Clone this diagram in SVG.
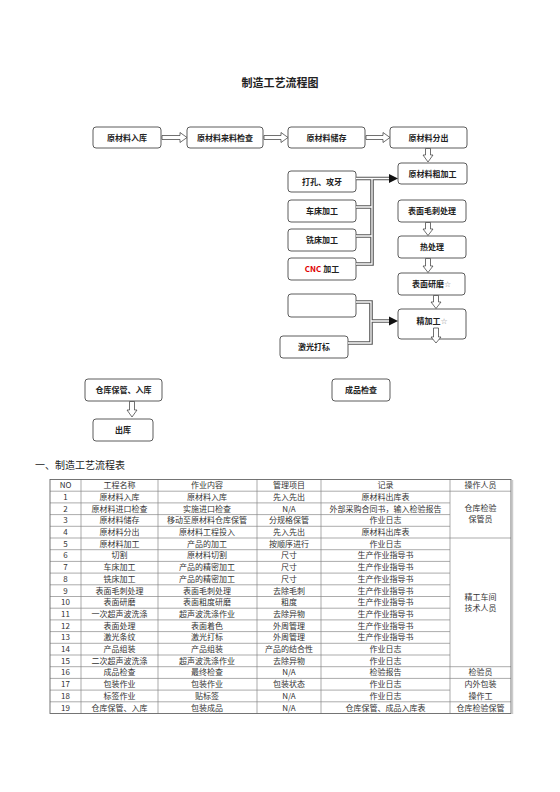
<svg xmlns="http://www.w3.org/2000/svg" width="560" height="792" viewBox="0 0 560 792">
<style>
.box{fill:#fff;stroke:#333;stroke-width:0.8}
.bt{font-family:"Noto Sans CJK SC","Noto Sans",sans-serif;font-size:8px;font-weight:bold;fill:#222;text-anchor:middle}
.star{font-family:"DejaVu Sans",sans-serif;font-weight:normal;fill:#888;font-size:8px}
.ha{fill:#fff;stroke:#333;stroke-width:0.7}
.co{fill:none;stroke:#555;stroke-width:3.6}
.ci{fill:none;stroke:#fff;stroke-width:1.3}
.tt{font-family:"Noto Sans CJK SC","Noto Sans",sans-serif;font-size:8px;fill:#333;text-anchor:middle}
.tl{stroke:#888;stroke-width:0.7}
</style>
<rect width="560" height="792" fill="#fff"/>
<text x="280" y="87" style="font-family:'Noto Sans CJK SC',sans-serif;font-size:11px;font-weight:bold;fill:#222" text-anchor="middle">制造工艺流程图</text>

<g id="n1"><rect class="box" x="93" y="127" width="68" height="21" rx="3"/><text class="bt" x="127" y="140.5">原材料入库</text></g>
<g id="n2"><rect class="box" x="187" y="127" width="76" height="21" rx="3"/><text class="bt" x="225" y="140.5">原材料来料检查</text></g>
<g id="n3"><rect class="box" x="288" y="127" width="77" height="21" rx="3"/><text class="bt" x="326.5" y="140.5">原材料储存</text></g>
<g id="n4"><rect class="box" x="390" y="127" width="77" height="21" rx="3"/><text class="bt" x="428.5" y="140.5">原材料分出</text></g>
<g id="n5"><rect class="box" x="398" y="163" width="69" height="21" rx="3"/><text class="bt" x="432.5" y="176.5">原材料粗加工</text></g>
<g id="n6"><rect class="box" x="288" y="171" width="68" height="21" rx="3"/><text class="bt" x="322" y="184.5">打孔、攻牙</text></g>
<g id="n7"><rect class="box" x="288" y="200" width="68" height="22" rx="3"/><text class="bt" x="322" y="214">车床加工</text></g>
<g id="n8"><rect class="box" x="288" y="229" width="68" height="22" rx="3"/><text class="bt" x="322" y="243">铣床加工</text></g>
<g id="n9"><rect class="box" x="288" y="258" width="68" height="22" rx="3"/><text class="bt" x="322" y="272"><tspan fill="#e00000">CNC</tspan> 加工</text></g>
<g id="n10"><rect class="box" x="398" y="200" width="68" height="22" rx="3"/><text class="bt" x="432" y="214">表面毛刺处理</text></g>
<g id="n11"><rect class="box" x="398" y="236" width="68" height="22" rx="3"/><text class="bt" x="432" y="250">热处理</text></g>
<g id="n12"><rect class="box" x="398" y="273" width="67" height="22" rx="3"/><text class="bt" x="431.5" y="287">表面研磨<tspan class="star">☆</tspan></text></g>
<g id="n13"><rect class="box" x="288" y="294" width="68" height="23" rx="3"/></g>
<g id="n14"><rect class="box" x="398" y="309" width="68" height="30" rx="3"/><text class="bt" x="432" y="324">精加工<tspan class="star">☆</tspan></text></g>
<g id="n15"><rect class="box" x="280" y="336" width="68" height="22" rx="3"/><text class="bt" x="314" y="350">激光打标</text></g>
<g id="n16"><rect class="box" x="85" y="379" width="77" height="22" rx="3"/><text class="bt" x="123.5" y="393">仓库保管、入库</text></g>
<g id="n17"><rect class="box" x="93" y="419" width="60" height="22" rx="3"/><text class="bt" x="123" y="433">出库</text></g>
<g id="n18"><rect class="box" x="332" y="379" width="58" height="22" rx="3"/><text class="bt" x="361" y="393">成品检查</text></g>

<g id="connectors">
  <path class="co" d="M356,178.5 H392 M372,178.5 V264 H356 M356,207 H372 M356,236 H372"/>
  <path class="co" d="M356,302 H371 V343 H348 M371,321 H391"/>
  <path class="ci" d="M356,178.5 H391 M372,178.5 V264 H356 M356,207 H372 M356,236 H372"/>
  <path class="ci" d="M356,302 H371 V343 H348 M371,321 H390"/>
  <path d="M389,174 L398,178.5 L389,183 Z" fill="#111"/>
  <path d="M389,316.5 L398,321 L389,325.5 Z" fill="#111"/>
  <path class="ha" d="M162,135.5 H180 V132.5 L187,137.5 L180,142.5 V139.5 H162 Z"/>
  <path class="ha" d="M264,135.5 H281 V132.5 L288,137.5 L281,142.5 V139.5 H264 Z"/>
  <path class="ha" d="M366,135.5 H383 V132.5 L390,137.5 L383,142.5 V139.5 H366 Z"/>
  <path class="ha" d="M425.5,148.5 V155 H423 L428,162 L433,155 H430.5 V148.5 Z"/>
  <path class="ha" d="M425.5,222.5 V229 H423 L428,235.5 L433,229 H430.5 V222.5 Z"/>
  <path class="ha" d="M425.5,258.5 V266 H423 L428,272.5 L433,266 H430.5 V258.5 Z"/>
  <path class="ha" d="M433.5,295.5 V302 H431 L436,308.5 L441,302 H438.5 V295.5 Z"/>
  <path class="ha" d="M433.5,328 V337 H431 L436,343 L441,337 H438.5 V328 Z"/>
  <path class="ha" d="M129.5,401.5 V410 H127 L132,417 L137,410 H134.5 V401.5 Z"/>
</g>

<text x="35" y="469" style="font-family:'Noto Sans CJK SC',sans-serif;font-size:10px;fill:#222">一、制造工艺流程表</text>

<g id="table">
  <g class="tl">
    <line x1="50" y1="491.2" x2="511" y2="491.2"/>
    <line x1="50" y1="502.9" x2="450" y2="502.9"/>
    <line x1="50" y1="514.6" x2="450" y2="514.6"/>
    <line x1="50" y1="526.3" x2="450" y2="526.3"/>
    <line x1="50" y1="538" x2="511" y2="538"/>
    <line x1="50" y1="549.7" x2="450" y2="549.7"/>
    <line x1="50" y1="561.4" x2="450" y2="561.4"/>
    <line x1="50" y1="573.1" x2="450" y2="573.1"/>
    <line x1="50" y1="584.8" x2="450" y2="584.8"/>
    <line x1="50" y1="596.5" x2="450" y2="596.5"/>
    <line x1="50" y1="608.2" x2="450" y2="608.2"/>
    <line x1="50" y1="619.9" x2="450" y2="619.9"/>
    <line x1="50" y1="631.6" x2="450" y2="631.6"/>
    <line x1="50" y1="643.3" x2="450" y2="643.3"/>
    <line x1="50" y1="655" x2="450" y2="655"/>
    <line x1="50" y1="666.7" x2="511" y2="666.7"/>
    <line x1="50" y1="678.4" x2="511" y2="678.4"/>
    <line x1="50" y1="690.1" x2="450" y2="690.1"/>
    <line x1="50" y1="701.8" x2="511" y2="701.8"/>
    <line x1="81" y1="479.5" x2="81" y2="713.5"/>
    <line x1="158" y1="479.5" x2="158" y2="713.5"/>
    <line x1="257" y1="479.5" x2="257" y2="713.5"/>
    <line x1="321" y1="479.5" x2="321" y2="713.5"/>
    <line x1="450" y1="479.5" x2="450" y2="713.5"/>
  </g>
  <rect x="50" y="479.5" width="461" height="234" fill="none" stroke="#666" stroke-width="0.9"/>
  <line x1="512.5" y1="480" x2="512.5" y2="714" stroke="#ccc" stroke-width="1.5"/>
  <g class="tt">
    <text x="65.5" y="488.2">NO</text><text x="119.5" y="488.2">工程名称</text><text x="207" y="488.2">作业内容</text><text x="289" y="488.2">管理项目</text><text x="385.5" y="488.2">记录</text><text x="480.5" y="488.2">操作人员</text>
    <text x="65.5" y="499.9">1</text><text x="119.5" y="499.9">原材料入库</text><text x="207" y="499.9">原材料入库</text><text x="289" y="499.9">先入先出</text><text x="385.5" y="499.9">原材料出库表</text>
    <text x="65.5" y="511.6">2</text><text x="119.5" y="511.6">原材料进口检查</text><text x="207" y="511.6">实施进口检查</text><text x="289" y="511.6">N/A</text><text x="385.5" y="511.6">外部采购合同书，输入检验报告</text>
    <text x="65.5" y="523.3">3</text><text x="119.5" y="523.3">原材料储存</text><text x="207" y="523.3">移动至原材料仓库保管</text><text x="289" y="523.3">分规格保管</text><text x="385.5" y="523.3">作业日志</text>
    <text x="65.5" y="535">4</text><text x="119.5" y="535">原材料分出</text><text x="207" y="535">原材料工程投入</text><text x="289" y="535">先入先出</text><text x="385.5" y="535">原材料出库表</text>
    <text x="65.5" y="546.7">5</text><text x="119.5" y="546.7">原材料加工</text><text x="207" y="546.7">产品的加工</text><text x="289" y="546.7">按顺序进行</text><text x="385.5" y="546.7">作业日志</text>
    <text x="65.5" y="558.4">6</text><text x="119.5" y="558.4">切割</text><text x="207" y="558.4">原材料切割</text><text x="289" y="558.4">尺寸</text><text x="385.5" y="558.4">生产作业指导书</text>
    <text x="65.5" y="570.1">7</text><text x="119.5" y="570.1">车床加工</text><text x="207" y="570.1">产品的精密加工</text><text x="289" y="570.1">尺寸</text><text x="385.5" y="570.1">生产作业指导书</text>
    <text x="65.5" y="581.8">8</text><text x="119.5" y="581.8">铣床加工</text><text x="207" y="581.8">产品的精密加工</text><text x="289" y="581.8">尺寸</text><text x="385.5" y="581.8">生产作业指导书</text>
    <text x="65.5" y="593.5">9</text><text x="119.5" y="593.5">表面毛刺处理</text><text x="207" y="593.5">表面毛刺处理</text><text x="289" y="593.5">去除毛刺</text><text x="385.5" y="593.5">生产作业指导书</text>
    <text x="65.5" y="605.2">10</text><text x="119.5" y="605.2">表面研磨</text><text x="207" y="605.2">表面粗度研磨</text><text x="289" y="605.2">粗度</text><text x="385.5" y="605.2">生产作业指导书</text>
    <text x="65.5" y="616.9">11</text><text x="119.5" y="616.9">一次超声波洗涤</text><text x="207" y="616.9">超声波洗涤作业</text><text x="289" y="616.9">去除异物</text><text x="385.5" y="616.9">生产作业指导书</text>
    <text x="65.5" y="628.6">12</text><text x="119.5" y="628.6">表面处理</text><text x="207" y="628.6">表面着色</text><text x="289" y="628.6">外周管理</text><text x="385.5" y="628.6">生产作业指导书</text>
    <text x="65.5" y="640.3">13</text><text x="119.5" y="640.3">激光条纹</text><text x="207" y="640.3">激光打标</text><text x="289" y="640.3">外周管理</text><text x="385.5" y="640.3">生产作业指导书</text>
    <text x="65.5" y="652">14</text><text x="119.5" y="652">产品组装</text><text x="207" y="652">产品组装</text><text x="289" y="652">产品的结合性</text><text x="385.5" y="652">作业日志</text>
    <text x="65.5" y="663.7">15</text><text x="119.5" y="663.7">二次超声波洗涤</text><text x="207" y="663.7">超声波洗涤作业</text><text x="289" y="663.7">去除异物</text><text x="385.5" y="663.7">作业日志</text>
    <text x="65.5" y="675.4">16</text><text x="119.5" y="675.4">成品检查</text><text x="207" y="675.4">最终检查</text><text x="289" y="675.4">N/A</text><text x="385.5" y="675.4">检验报告</text><text x="480.5" y="675.4">检验员</text>
    <text x="65.5" y="687.1">17</text><text x="119.5" y="687.1">包装作业</text><text x="207" y="687.1">包装作业</text><text x="289" y="687.1">包装状态</text><text x="385.5" y="687.1">作业日志</text><text x="480.5" y="687.1">内外包装</text>
    <text x="65.5" y="698.8">18</text><text x="119.5" y="698.8">标签作业</text><text x="207" y="698.8">贴标签</text><text x="289" y="698.8">N/A</text><text x="385.5" y="698.8">作业日志</text><text x="480.5" y="698.8">操作工</text>
    <text x="65.5" y="710.5">19</text><text x="119.5" y="710.5">仓库保管、入库</text><text x="207" y="710.5">包装成品</text><text x="289" y="710.5">N/A</text><text x="385.5" y="710.5">仓库保管、成品入库表</text><text x="480.5" y="710.5">仓库检验保管</text>
    <text x="480.5" y="511">仓库检验</text><text x="480.5" y="522">保管员</text>
    <text x="480.5" y="600">精工车间</text><text x="480.5" y="611">技术人员</text>
  </g>
</g>
</svg>
